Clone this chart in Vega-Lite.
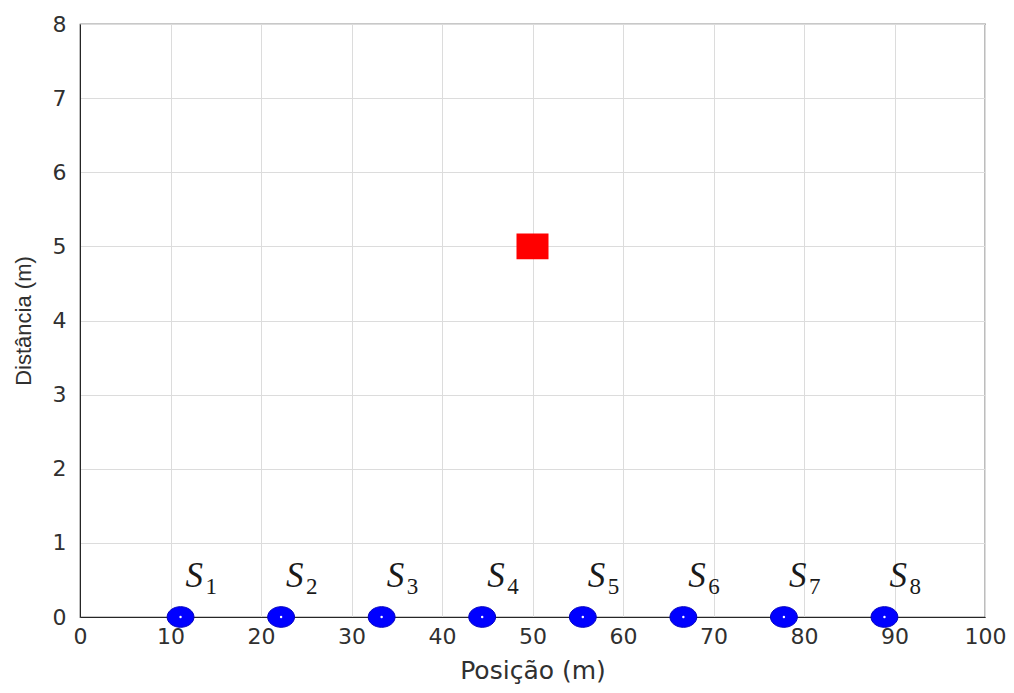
{
  "$schema": "https://vega.github.io/schema/vega-lite/v6.json",
  "width": 905,
  "height": 593,
  "autosize": "none",
  "padding": {"left": 80, "top": 24, "right": 29, "bottom": 76},
  "background": "white",
  "config": {
    "view": {"stroke": "#262626", "strokeWidth": 1.2},
    "axis": {
      "labelFont": "DejaVu Sans",
      "titleFont": "DejaVu Sans",
      "labelFontSize": 22,
      "titleFontSize": 23,
      "labelColor": "#303030",
      "titleColor": "#303030",
      "titleFontWeight": "normal",
      "gridColor": "#dcdcdc",
      "gridWidth": 1,
      "domainColor": "#262626",
      "labelFlush": false,
      "labelOverlap": false,
      "ticks": false
    }
  },
  "datasets": {
    "sensors": [
      {"x": 11.11, "y": 0, "s": "S", "k": "1"},
      {"x": 22.22, "y": 0, "s": "S", "k": "2"},
      {"x": 33.33, "y": 0, "s": "S", "k": "3"},
      {"x": 44.44, "y": 0, "s": "S", "k": "4"},
      {"x": 55.56, "y": 0, "s": "S", "k": "5"},
      {"x": 66.67, "y": 0, "s": "S", "k": "6"},
      {"x": 77.78, "y": 0, "s": "S", "k": "7"},
      {"x": 88.89, "y": 0, "s": "S", "k": "8"}
    ],
    "target": [{"x": 50, "y": 5}]
  },
  "layer": [
    {
      "data": {"name": "sensors"},
      "mark": {"type": "point", "filled": true, "shape": "M-1,0A1,0.77,0,1,1,1,0A1,0.77,0,1,1,-1,0Z", "size": 720, "color": "#0000ff", "stroke": "#0000c0", "strokeWidth": 1, "opacity": 1, "clip": false},
      "encoding": {
        "x": {"field": "x", "type": "quantitative", "scale": {"domain": [0, 100]}, "axis": {"values": [0,10,20,30,40,50,60,70,80,90,100], "title": "Posição (m)", "titleFontSize": 25, "labelPadding": 9, "titlePadding": 11, "grid": true}},
        "y": {"field": "y", "type": "quantitative", "scale": {"domain": [0, 8]}, "axis": {"values": [0,1,2,3,4,5,6,7,8], "format": "d", "title": "Distância (m)", "titleFont": "Liberation Sans", "titleFontSize": 22, "labelPadding": 14, "titlePadding": 17, "grid": true}}
      }
    },
    {
      "data": {"name": "sensors"},
      "mark": {"type": "point", "filled": true, "shape": "circle", "size": 6, "color": "white", "opacity": 1, "clip": false},
      "encoding": {
        "x": {"field": "x", "type": "quantitative"},
        "y": {"field": "y", "type": "quantitative"}
      }
    },
    {
      "data": {"name": "sensors"},
      "mark": {"type": "text", "font": "Liberation Serif", "fontStyle": "italic", "fontSize": 35, "align": "left", "baseline": "alphabetic", "dx": 5, "dy": -30, "color": "#1a1a1a"},
      "encoding": {
        "x": {"field": "x", "type": "quantitative"},
        "y": {"field": "y", "type": "quantitative"},
        "text": {"field": "s"}
      }
    },
    {
      "data": {"name": "sensors"},
      "mark": {"type": "text", "font": "Liberation Serif", "fontSize": 23, "align": "left", "baseline": "alphabetic", "dx": 25, "dy": -23, "color": "#1a1a1a"},
      "encoding": {
        "x": {"field": "x", "type": "quantitative"},
        "y": {"field": "y", "type": "quantitative"},
        "text": {"field": "k"}
      }
    },
    {
      "data": {"name": "target"},
      "mark": {"type": "point", "filled": true, "shape": "M-1,-0.8H1V0.8H-1Z", "size": 1024, "color": "#ff0000", "opacity": 1},
      "encoding": {
        "x": {"field": "x", "type": "quantitative"},
        "y": {"field": "y", "type": "quantitative"}
      }
    }
  ]
}
